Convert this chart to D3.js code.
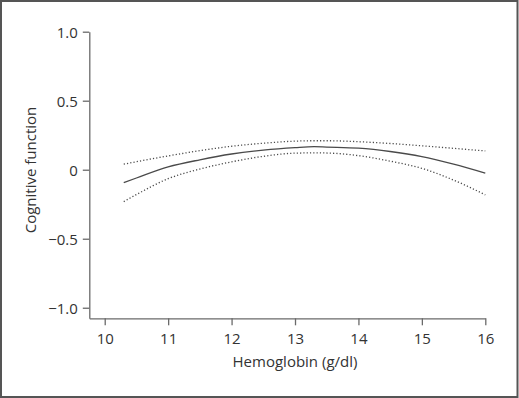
<!DOCTYPE html>
<html>
<head>
<meta charset="utf-8">
<script src="https://cdn.jsdelivr.net/npm/d3@7"></script>
<style>
  html, body { margin: 0; padding: 0; background: #fff; }
  svg { display: block; }
  text { font-family: "Open Sans", "Noto Sans", sans-serif; fill: #333; }
</style>
</head>
<body>
<svg id="chart" width="519" height="398"></svg>
<script>
// Data
const hemoglobin = [10.3, 10.5, 11, 11.5, 12, 12.5, 13, 13.3, 13.5, 14, 14.5, 15, 15.5, 16];
const estimate   = [-0.093, -0.060, 0.020, 0.072, 0.114, 0.142, 0.160, 0.167, 0.164, 0.156, 0.132, 0.095, 0.040, -0.025];
const upperCI    = [0.040, 0.058, 0.100, 0.138, 0.170, 0.192, 0.207, 0.210, 0.210, 0.203, 0.190, 0.173, 0.155, 0.136];
const lowerCI    = [-0.231, -0.180, -0.065, 0.005, 0.057, 0.097, 0.120, 0.122, 0.121, 0.102, 0.062, 0.010, -0.075, -0.182];
const xTicks = [10, 11, 12, 13, 14, 15, 16];
const yTicks = [-1.0, -0.5, 0, 0.5, 1.0];
const xLabel = "Hemoglobin (g/dl)";
const yLabel = "Cognitive function";

const svg = d3.select("#chart");

// frame
svg.append("rect")
  .attr("x", 1).attr("y", 1).attr("width", 516.5).attr("height", 396)
  .attr("fill", "none").attr("stroke", "#555").attr("stroke-width", 2);

const x = d3.scaleLinear().domain([9.757, 16]).range([89.3, 485.3]);
const y = d3.scaleLinear().domain([-1.0765, 1.0]).range([318.3, 31.7]);

const fmtY = v => v === 0 ? "0" : (v < 0 ? "\u2212" + d3.format(".1f")(-v) : d3.format(".1f")(v));

const axisColor = "#6a6a6a";

const gx = svg.append("g").attr("transform", "translate(0,318.3)")
  .call(d3.axisBottom(x).tickValues(xTicks).tickSizeOuter(0).tickSizeInner(7).tickPadding(8).tickFormat(d3.format("d")));
const gy = svg.append("g").attr("transform", "translate(89.3,0)")
  .call(d3.axisLeft(y).tickValues(yTicks).tickSizeOuter(0).tickSizeInner(6.5).tickPadding(5).tickFormat(fmtY));

[gx, gy].forEach(g => {
  g.select(".domain").attr("stroke", axisColor).attr("stroke-width", 1.3);
  g.selectAll(".tick line").attr("stroke", axisColor).attr("stroke-width", 1.3);
  g.selectAll(".tick text").attr("fill", "#333").style("font-size", "15px")
    .style("font-family", "'Open Sans', 'Noto Sans', sans-serif");
});
gy.selectAll(".tick text").attr("dy", "0.36em");

// axis titles
svg.append("text").attr("x", 295).attr("y", 367).attr("text-anchor", "middle")
  .style("font-size", "15px").text(xLabel);
svg.append("text").attr("transform", "translate(36,170) rotate(-90)")
  .attr("text-anchor", "middle").style("font-size", "15px").text(yLabel);

const line = d3.line().curve(d3.curveMonotoneX)
  .x((d, i) => x(hemoglobin[i])).y(d => y(d));

svg.append("path").datum(upperCI).attr("d", line)
  .attr("fill", "none").attr("stroke", "#4a4a4a").attr("stroke-width", 1.3)
  .attr("stroke-dasharray", "1.2,2.1");
svg.append("path").datum(lowerCI).attr("d", line)
  .attr("fill", "none").attr("stroke", "#4a4a4a").attr("stroke-width", 1.3)
  .attr("stroke-dasharray", "1.2,2.1");
svg.append("path").datum(estimate).attr("d", line)
  .attr("fill", "none").attr("stroke", "#4a4a4a").attr("stroke-width", 1.3);
</script>
</body>
</html>
